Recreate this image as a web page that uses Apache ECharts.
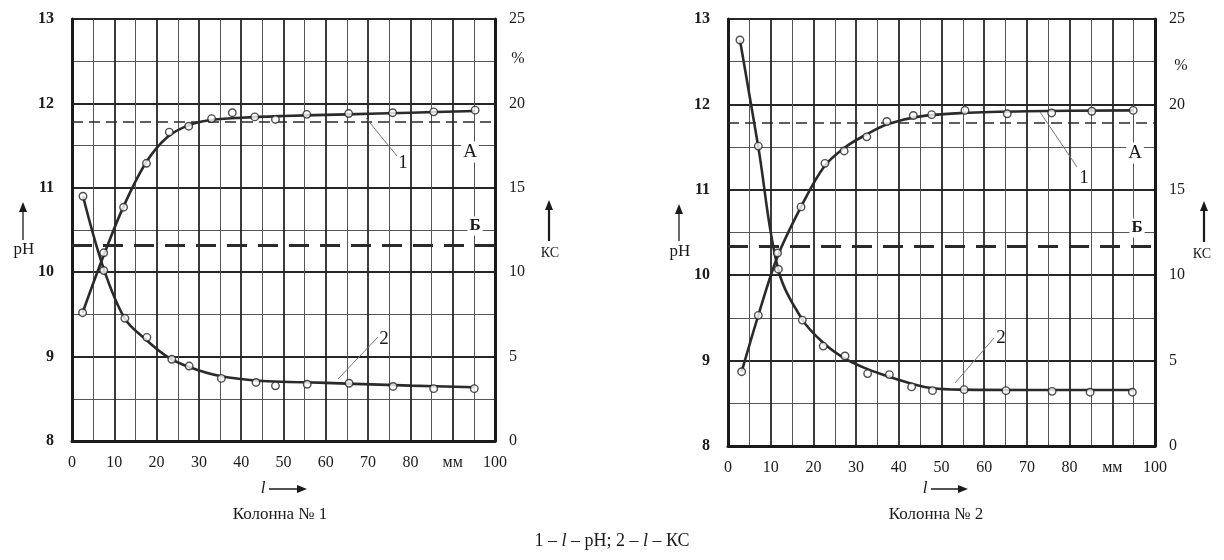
<!DOCTYPE html>
<html><head><meta charset="utf-8">
<script src="https://cdn.jsdelivr.net/npm/echarts@6/dist/echarts.min.js"></script>
<style>html,body{margin:0;padding:0;background:#fff}#c{width:1224px;height:560px}</style>
</head><body><div id="c"></div>
<script>
// ---------- tick labels ----------
const xTickLabels = ['0','10','20','30','40','50','60','70','80','мм','100'];
const pHTicks = [8, 9, 10, 11, 12, 13];
const ksTicks = [0, 5, 10, 15, 20, 25];

// ---------- Колонна № 1 ----------
// curve 1 (l – pH), measured points
const c1PhX = [2.5, 7.5, 12.2, 17.6, 23, 27.6, 33, 37.9, 43.2, 48.1, 55.5, 65.4, 75.8, 85.5, 95.3];
const c1PhY = [9.52, 10.23, 10.77, 11.29, 11.66, 11.73, 11.82, 11.89, 11.84, 11.81, 11.87, 11.88, 11.89, 11.9, 11.92];
// curve 1 drawn line
const c1PhLineX = [2.5, 7.5, 12.2, 17.5, 22.5, 27.5, 32.5, 40, 50, 65, 80, 95.3];
const c1PhLineY = [9.52, 10.2, 10.78, 11.3, 11.6, 11.74, 11.8, 11.83, 11.85, 11.87, 11.89, 11.91];
// curve 2 (l – КС), measured points
const c1KsX = [2.6, 7.5, 12.5, 17.7, 23.6, 27.7, 35.3, 43.5, 48.1, 55.6, 65.5, 75.9, 85.5, 95.1];
const c1KsY = [14.5, 10.1, 7.27, 6.14, 4.84, 4.44, 3.71, 3.47, 3.27, 3.36, 3.42, 3.23, 3.1, 3.1];
const c1KsLineX = [2.6, 7.5, 12.5, 17.5, 22.5, 27.5, 35, 45, 55, 65, 80, 95.1];
const c1KsLineY = [14.5, 10.2, 7.25, 6.0, 5.0, 4.4, 3.85, 3.55, 3.48, 3.4, 3.28, 3.18];
const c1LevelA = 11.78, c1LevelB = 10.32;

// ---------- Колонна № 2 ----------
const c2PhX = [3.2, 7.1, 11.6, 17.1, 22.7, 27.2, 32.5, 37.2, 43.4, 47.7, 55.5, 65.4, 75.8, 85.2, 94.9];
const c2PhY = [8.87, 9.53, 10.26, 10.8, 11.31, 11.455, 11.62, 11.8, 11.87, 11.88, 11.93, 11.89, 11.9, 11.92, 11.93];
const c2PhLineX = [3.2, 7.1, 11.6, 17.1, 22.5, 27.5, 32.5, 37.5, 45, 55, 70, 95];
const c2PhLineY = [8.87, 9.53, 10.22, 10.8, 11.27, 11.5, 11.65, 11.77, 11.86, 11.9, 11.92, 11.93];
const c2KsX = [2.8, 7.1, 11.8, 17.4, 22.3, 27.4, 32.7, 37.8, 43, 47.9, 55.3, 65.1, 75.9, 84.8, 94.7];
const c2KsY = [23.77, 17.56, 10.35, 7.37, 5.85, 5.27, 4.24, 4.18, 3.46, 3.24, 3.3, 3.24, 3.2, 3.15, 3.15];
const c2KsLineX = [2.8, 7.1, 11.8, 17.4, 22.5, 27.5, 32.7, 37.8, 43, 48, 55, 70, 95];
const c2KsLineY = [23.77, 17.5, 10.3, 7.4, 6.0, 5.1, 4.5, 4.05, 3.65, 3.38, 3.3, 3.28, 3.28];
const c2LevelA = 11.79, c2LevelB = 10.34;

// ---------- build ----------
const zip = (xs, ys) => xs.map((x, i) => [x, ys[i]]);
const FONT = 'Liberation Serif';
const INK = '#1a1a1a';

function xAxis(gi) {
  return {
    type: 'value', gridIndex: gi, min: 0, max: 100, interval: 10,
    axisLine: { show: true, lineStyle: { color: INK, width: 3 } },
    axisTick: { show: false },
    axisLabel: { margin: 14, color: INK, fontFamily: FONT, fontSize: 16,
      formatter: v => xTickLabels[Math.round(v / 10)] },
    splitLine: { show: true, lineStyle: { color: '#262626', width: 1.8 } },
    minorTick: { show: false, splitNumber: 2 },
    minorSplitLine: { show: true, lineStyle: { color: '#555', width: 1 } }
  };
}
function yLeft(gi) {
  return {
    type: 'value', gridIndex: gi, min: pHTicks[0], max: pHTicks[pHTicks.length - 1], interval: 1,
    axisLine: { show: true, lineStyle: { color: INK, width: 3 } },
    axisTick: { show: false },
    axisLabel: { margin: 18, color: INK, fontFamily: FONT, fontSize: 16, fontWeight: 'bold' },
    splitLine: { show: true, lineStyle: { color: '#262626', width: 1.8 } },
    minorTick: { show: false, splitNumber: 2 },
    minorSplitLine: { show: true, lineStyle: { color: '#555', width: 1 } }
  };
}
function yRight(gi) {
  return {
    type: 'value', gridIndex: gi, position: 'right', min: ksTicks[0], max: ksTicks[ksTicks.length - 1], interval: 5,
    axisLine: { show: true, lineStyle: { color: INK, width: 3 } },
    axisTick: { show: false },
    axisLabel: { margin: 14, color: INK, fontFamily: FONT, fontSize: 16 },
    splitLine: { show: false }
  };
}
const markerStyle = { color: '#fff', borderColor: '#222', borderWidth: 1.4 };
function pts(xi, yi, data) {
  return { type: 'scatter', xAxisIndex: xi, yAxisIndex: yi, data, symbol: 'circle', symbolSize: 7.5,
    itemStyle: markerStyle, z: 5, silent: true };
}
function curve(xi, yi, data, extra) {
  return Object.assign({ type: 'line', xAxisIndex: xi, yAxisIndex: yi, data, smooth: 0.35,
    showSymbol: false, lineStyle: { color: '#2a2a2a', width: 2.6 }, z: 4, silent: true }, extra || {});
}
function level(xi, yi, v, dash, w) {
  return { type: 'line', xAxisIndex: xi, yAxisIndex: yi, data: [], silent: true,
    markLine: { silent: true, symbol: ['none', 'none'], label: { show: false },
      lineStyle: { color: '#2a2a2a', type: dash, width: w }, data: [{ yAxis: v }] } };
}

const series = [
  level(0, 0, c1LevelA, [11, 6], 1.6),
  level(0, 0, c1LevelB, [20, 11], 3),
  curve(0, 0, zip(c1PhLineX, c1PhLineY)),
  curve(0, 1, zip(c1KsLineX, c1KsLineY)),
  pts(0, 0, zip(c1PhX, c1PhY)),
  pts(0, 1, zip(c1KsX, c1KsY)),
  level(1, 2, c2LevelA, [11, 6], 1.6),
  level(1, 2, c2LevelB, [20, 11], 3),
  curve(1, 2, zip(c2PhLineX, c2PhLineY)),
  curve(1, 3, zip(c2KsLineX, c2KsLineY)),
  pts(1, 2, zip(c2PhX, c2PhY)),
  pts(1, 3, zip(c2KsX, c2KsY))
];

function txt(x, y, s, size, opts) {
  return { type: 'text', x, y, silent: true, z: 20,
    style: Object.assign({ text: s, fill: INK, font: (opts && opts.font) || `${size}px "${FONT}"`,
      align: 'center', verticalAlign: 'middle' }, opts && opts.style || {}) };
}
function upArrow(x, y1, y2, w) {
  return [
    { type: 'line', silent: true, shape: { x1: x, y1: y1, x2: x, y2: y2 + 8 }, style: { stroke: INK, lineWidth: w } },
    { type: 'polygon', silent: true, shape: { points: [[x, y2], [x - 4, y2 + 10], [x + 4, y2 + 10]] }, style: { fill: INK } }
  ];
}
function rightArrow(x1, x2, y) {
  return [
    { type: 'line', silent: true, shape: { x1: x1, y1: y, x2: x2 - 8, y2: y }, style: { stroke: INK, lineWidth: 1.5 } },
    { type: 'polygon', silent: true, shape: { points: [[x2, y], [x2 - 10, y - 4], [x2 - 10, y + 4]] }, style: { fill: INK } }
  ];
}
function leader(x1, y1, x2, y2) {
  return { type: 'line', silent: true, z: 19, shape: { x1, y1, x2, y2 }, style: { stroke: '#777', lineWidth: 1 } };
}
const boxed = { backgroundColor: '#fff', padding: [1, 2] };

const graphic = [
  // left chart annotations
  txt(24, 250, 'pH', 17), ...upArrow(23, 240, 202, 1.3),
  txt(550, 253, 'КС', 14), ...upArrow(549, 241, 200, 2.2),
  txt(518, 59, '%', 16),
  txt(470, 152, 'А', 19, { style: boxed }),
  txt(475, 226, 'Б', 17, { font: `bold 17px "${FONT}"`, style: boxed }),
  leader(366, 118, 397, 156), txt(403, 163, '1', 19),
  leader(338, 379, 378, 337), txt(384, 339, '2', 19),
  txt(263, 489, 'l', 17, { font: `italic 17px "${FONT}"` }), ...rightArrow(269, 307, 489),
  txt(280, 515, 'Колонна № 1', 17),
  // right chart annotations
  txt(680, 252, 'pH', 17), ...upArrow(679, 241, 204, 1.3),
  txt(1202, 254, 'КС', 14), ...upArrow(1204, 242, 201, 2.2),
  txt(1181, 66, '%', 16),
  txt(1135, 153, 'А', 19, { style: boxed }),
  txt(1137, 228, 'Б', 17, { font: `bold 17px "${FONT}"`, style: boxed }),
  leader(1040, 112, 1077, 167), txt(1084, 178, '1', 19),
  leader(955, 383, 994, 338), txt(1001, 338, '2', 19),
  txt(925, 489, 'l', 17, { font: `italic 17px "${FONT}"` }), ...rightArrow(931, 968, 489),
  txt(936, 515, 'Колонна № 2', 17),
  // caption
  { type: 'text', left: 'center', top: 532, silent: true,
    style: { text: '1 – {i|l} – pH; 2 – {i|l} – КС', fill: INK, font: `18px "${FONT}"`,
      rich: { i: { fontStyle: 'italic', fontFamily: FONT, fontSize: 18, fill: INK } } } }
];

const option = {
  animation: false,
  backgroundColor: '#fff',
  grid: [
    { left: 72, top: 19, width: 423, height: 422, show: true, borderColor: '#2a2a2a', borderWidth: 1.5, backgroundColor: 'transparent' },
    { left: 728, top: 19, width: 427, height: 427, show: true, borderColor: '#2a2a2a', borderWidth: 1.5, backgroundColor: 'transparent' }
  ],
  xAxis: [xAxis(0), xAxis(1)],
  yAxis: [yLeft(0), yRight(0), yLeft(1), yRight(1)],
  series,
  graphic
};
const chart = echarts.init(document.getElementById('c'), null, { renderer: 'canvas' });
chart.setOption(option);
</script>
</body></html>
